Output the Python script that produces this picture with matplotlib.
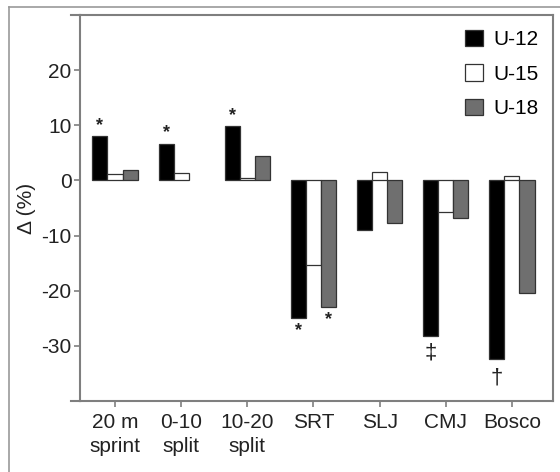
import matplotlib
matplotlib.use('Agg')
import matplotlib.pyplot as plt
import numpy as np
from matplotlib.lines import Line2D

plt.rcParams['font.family'] = ['Liberation Sans', 'DejaVu Sans']
plt.rcParams['axes.unicode_minus'] = False

categories = ['20 m\nsprint', '0-10\nsplit', '10-20\nsplit', 'SRT', 'SLJ', 'CMJ', 'Bosco']
groups = ['U-12', 'U-15', 'U-18']
u12 = [8.0, 6.6, 9.8, -25.0, -9.0, -28.3, -32.4]
u15 = [1.1, 1.3, 0.5, -15.3, 1.5, -5.8, 0.8]
u18 = [1.9, np.nan, 4.5, -23.0, -7.7, -6.8, -20.4]
# (category, group, symbol)
marks = [(0, 0, '*'), (1, 0, '*'), (2, 0, '*'), (3, 0, '*'), (3, 2, '*'),
         (5, 0, '\u2021'), (6, 0, '\u2020')]

colors = ['black', 'white', '#6f6f6f']
series = [u12, u15, u18]
fs = 15

fig = plt.figure(figsize=(5.6, 4.72), dpi=100)
ax = fig.add_axes([80 / 560, 1 - 401 / 472, (553 - 80) / 560, (401 - 15) / 472])

x = np.arange(len(categories))
w = 0.227
for i, vals in enumerate(series):
    ax.bar(x + (i - 1) * w, vals, w, color=colors[i], edgecolor='#333333',
           linewidth=0.9, label=groups[i])

for c, g, s in marks:
    v = series[g][c]
    xx = c + (g - 1) * w
    if v >= 0:
        ax.text(xx, v + 2.0, s, ha='center', va='center', fontsize=13,
                fontweight='bold', color='#222222')
    else:
        off = {'*': 2.3, '\u2021': 3.0, '\u2020': 3.4}[s]
        ax.text(xx, v - off, s, ha='center', va='center',
                fontsize=13 if s == '*' else 16,
                fontweight='bold' if s == '*' else 'normal', color='#222222')

ax.set_xlim(-0.529, 6.62)
ax.set_ylim(-40, 30)
ax.set_yticks([-30, -20, -10, 0, 10, 20])
ax.set_xticks(x)
ax.set_xticklabels(categories, fontsize=fs, color='#222222', linespacing=1.3)
ax.tick_params(axis='y', labelsize=fs, colors='#222222', pad=2)
ax.tick_params(direction='out', length=4, width=1.2, color='#7f7f7f')
ax.tick_params(axis='x', pad=5)
ax.set_ylabel('\u0394 (%)', fontsize=fs, color='#222222', labelpad=4)

for sp in ax.spines.values():
    sp.set_color('#7f7f7f')
    sp.set_linewidth(1.5)

leg = ax.legend(loc='upper right', frameon=False, fontsize=fs,
                handlelength=0.85, handleheight=0.85, handletextpad=0.5,
                labelspacing=0.72, borderaxespad=0.3)

# top/bottom spine overhang to the left
for yy in (15, 401):
    fig.add_artist(Line2D([71 / 560, 80 / 560], [1 - yy / 472, 1 - yy / 472],
                          color='#7f7f7f', lw=1.5))

# outer frame (left and top only visible)
fig.add_artist(Line2D([9 / 560, 9 / 560], [0, 1 - 7 / 472], color='#9a9a9a', lw=1.2))
fig.add_artist(Line2D([9 / 560, 1], [1 - 7 / 472, 1 - 7 / 472], color='#9a9a9a', lw=1.2))

fig.savefig('out.png', dpi=100)
